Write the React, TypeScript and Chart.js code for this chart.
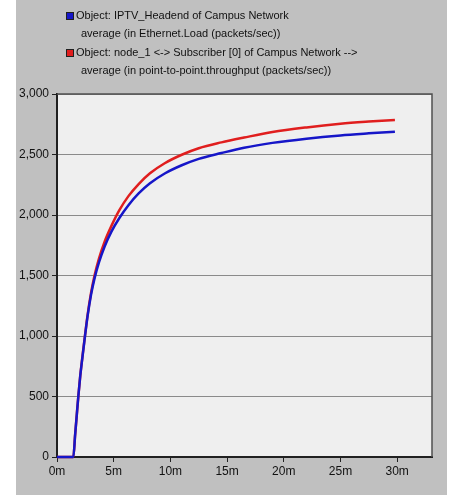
import React, { useEffect, useRef } from "react";
import { Chart, registerables } from "chart.js";

Chart.register(...registerables);

const timeMin = [0, 1.44, 1.6, 1.75, 1.88, 2.05, 2.25, 2.47, 2.7, 3.0, 3.3, 3.7, 4.2, 4.8, 5.5, 6.3, 7.2, 8.2, 9.5, 11, 12.5, 14.5, 16.5, 19, 22, 25, 27.5, 29.8];
const ethernetLoad = [0, 0, 185, 355, 500, 670, 830, 1000, 1166, 1340, 1472, 1608, 1740, 1863, 1975, 2081, 2178, 2262, 2343, 2411, 2464, 2512, 2556, 2596, 2631, 2658, 2675, 2689];
const p2pThroughput = [0, 0, 185, 355, 500, 670, 835, 1005, 1175, 1355, 1495, 1640, 1780, 1910, 2040, 2156, 2256, 2345, 2428, 2498, 2552, 2600, 2640, 2686, 2724, 2754, 2772, 2786];
const legendLines = [
  ["Object: IPTV_Headend of Campus Network", "average (in Ethernet.Load (packets/sec))"],
  ["Object: node_1 <-> Subscriber [0] of Campus Network -->", "average (in point-to-point.throughput (packets/sec))"],
];
const seriesColors = ["#1616c8", "#e01e1e"];
const xTickValues = [0, 5, 10, 15, 20, 25, 30];

const OFFSET_X = 16;

const bgPlugin = {
  id: "bgPlugin",
  beforeDraw(chart: any) {
    const { ctx, chartArea } = chart;
    ctx.save();
    ctx.fillStyle = "#efefef";
    ctx.fillRect(chartArea.left, chartArea.top, chartArea.right - chartArea.left, chartArea.bottom - chartArea.top);
    ctx.restore();
  },
  afterDraw(chart: any) {
    const { ctx, chartArea } = chart;
    ctx.save();
    ctx.strokeStyle = "#505050";
    ctx.lineWidth = 1.5;
    ctx.beginPath();
    ctx.moveTo(chartArea.left, chartArea.top);
    ctx.lineTo(chartArea.right, chartArea.top);
    ctx.lineTo(chartArea.right, chartArea.bottom);
    ctx.stroke();
    // legend
    ctx.font = "11px 'Liberation Sans', Arial, sans-serif";
    ctx.textBaseline = "middle";
    const ys = [[16, 34], [53, 71]];
    legendLines.forEach((lines, i) => {
      const sx = 66 - OFFSET_X;
      const sy = ys[i][0] - 4;
      ctx.fillStyle = seriesColors[i];
      ctx.fillRect(sx, sy, 8, 8);
      ctx.strokeStyle = "#202020";
      ctx.lineWidth = 1;
      ctx.strokeRect(sx + 0.5, sy + 0.5, 7, 7);
      ctx.fillStyle = "#111";
      ctx.fillText(lines[0], 76 - OFFSET_X, ys[i][0]);
      ctx.fillText(lines[1], 81 - OFFSET_X, ys[i][1]);
    });
    ctx.restore();
  },
};

export default function App() {
  const ref = useRef<HTMLCanvasElement>(null);
  useEffect(() => {
    if (!ref.current) return;
    const tickFont = { family: "'Liberation Sans', Arial, sans-serif", size: 12 };
    const chart = new Chart(ref.current, {
      type: "line",
      data: {
        datasets: [
          {
            label: legendLines[0].join(" "),
            data: timeMin.map((t, i) => ({ x: t, y: ethernetLoad[i] })),
            borderColor: seriesColors[0],
            borderWidth: 2.5,
            pointRadius: 0,
            cubicInterpolationMode: "monotone",
            fill: false,
            clip: 4,
          },
          {
            label: legendLines[1].join(" "),
            data: timeMin.map((t, i) => ({ x: t, y: p2pThroughput[i] })),
            borderColor: seriesColors[1],
            borderWidth: 2.5,
            pointRadius: 0,
            cubicInterpolationMode: "monotone",
            fill: false,
            clip: 4,
          },
        ],
      },
      options: {
        responsive: false,
        animation: false,
        devicePixelRatio: 1,
        layout: { padding: { top: 94, right: 15, left: 0, bottom: 0 } },
        plugins: { legend: { display: false }, tooltip: { enabled: false }, title: { display: false } },
        scales: {
          x: {
            type: "linear",
            min: 0,
            max: 33.07,
            afterFit: (s: any) => { s.height = 38; },
            afterBuildTicks: (s: any) => { s.ticks = xTickValues.map((v) => ({ value: v })); },
            ticks: {
              includeBounds: false,
              stepSize: 5,
              color: "#111",
              font: tickFont,
              padding: 2,
              maxRotation: 0,
              callback: (v: any) => `${v}m`,
            },
            grid: { drawOnChartArea: false, drawTicks: true, tickLength: 5, tickColor: "#202020" },
            border: { color: "#202020", width: 2 },
          },
          y: {
            min: 0,
            max: 3000,
            afterFit: (s: any) => { s.width = 41; },
            ticks: {
              stepSize: 500,
              color: "#111",
              font: tickFont,
              padding: 3,
              callback: (v: any) => Number(v).toLocaleString("en-US"),
            },
            grid: { color: "#8a8a8a", lineWidth: 1, drawTicks: true, tickLength: 5, tickColor: "#202020" },
            border: { color: "#202020", width: 2 },
          },
        },
      },
      plugins: [bgPlugin],
    } as any);
    return () => chart.destroy();
  }, []);
  return (
    <div style={{ position: "absolute", left: 0, top: 0, width: 451, height: 495, background: "#fff" }}>
      <div style={{ position: "absolute", left: OFFSET_X, top: 0, width: 431, height: 495, background: "#c0c0c0" }}>
        <canvas ref={ref} width={431} height={495} style={{ display: "block", width: 431, height: 495 }} />
      </div>
    </div>
  );
}
